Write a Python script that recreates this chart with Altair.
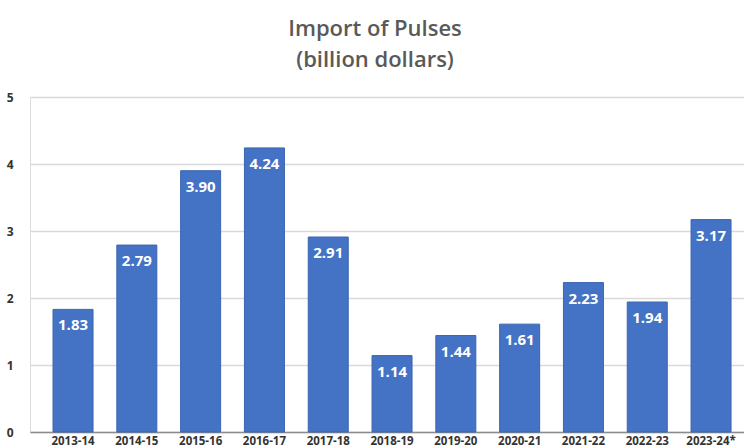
import altair as alt
import pandas as pd

years = ["2013-14", "2014-15", "2015-16", "2016-17", "2017-18", "2018-19",
         "2019-20", "2020-21", "2021-22", "2022-23", "2023-24*"]
values = [1.83, 2.79, 3.90, 4.24, 2.91, 1.14, 1.44, 1.61, 2.23, 1.94, 3.17]

df = pd.DataFrame({"year": years, "value": values})
df["label"] = [f"{v:.2f}" for v in values]

base = alt.Chart(df).encode(
    x=alt.X("year:N", sort=years, title=None,
            scale=alt.Scale(paddingInner=0.373, paddingOuter=0.282, align=0.64),
            axis=alt.Axis(labelAngle=0, labelFont="Open Sans", labelFontSize=11.5,
                          labelFontWeight="bold", labelColor="#333333",
                          ticks=False, domainColor="#8c8c8c", domainWidth=1.5,
                          labelPadding=3, labelOverlap=False)),
)

bars = base.mark_bar(color="#4472C4", stroke="#3a65b0", strokeWidth=1).encode(
    y=alt.Y("value:Q", title=None,
            scale=alt.Scale(domain=[0, 5], nice=False),
            axis=alt.Axis(values=[0, 1, 2, 3, 4, 5], format="d",
                          labelFont="Open Sans",
                          labelFontSize=12, labelFontWeight="bold",
                          labelColor="#333333", ticks=False, domain=False,
                          gridColor="#d9d9d9", gridWidth=1.5, labelPadding=17)),
)

labels = base.mark_text(color="white", font="Open Sans", fontWeight="bold",
                        fontSize=15, baseline="middle", dy=16).encode(
    y=alt.Y("value:Q"),
    text="label:N",
)

chart = (bars + labels).properties(
    width=714, height=335,
    title=alt.TitleParams(["Import of Pulses", "(billion dollars)"],
                          font="Open Sans", fontSize=22, fontWeight=600,
                          color="#595959", anchor="middle", dx=-12,
                          lineHeight=31, offset=19),
    autosize=alt.AutoSizeParams(type="none"),
    padding={"left": 30, "top": 97, "right": 0, "bottom": 16},
).configure_view(stroke=None).configure(background="white")

chart.save("out.html", embed_options={"renderer": "svg", "actions": False})
